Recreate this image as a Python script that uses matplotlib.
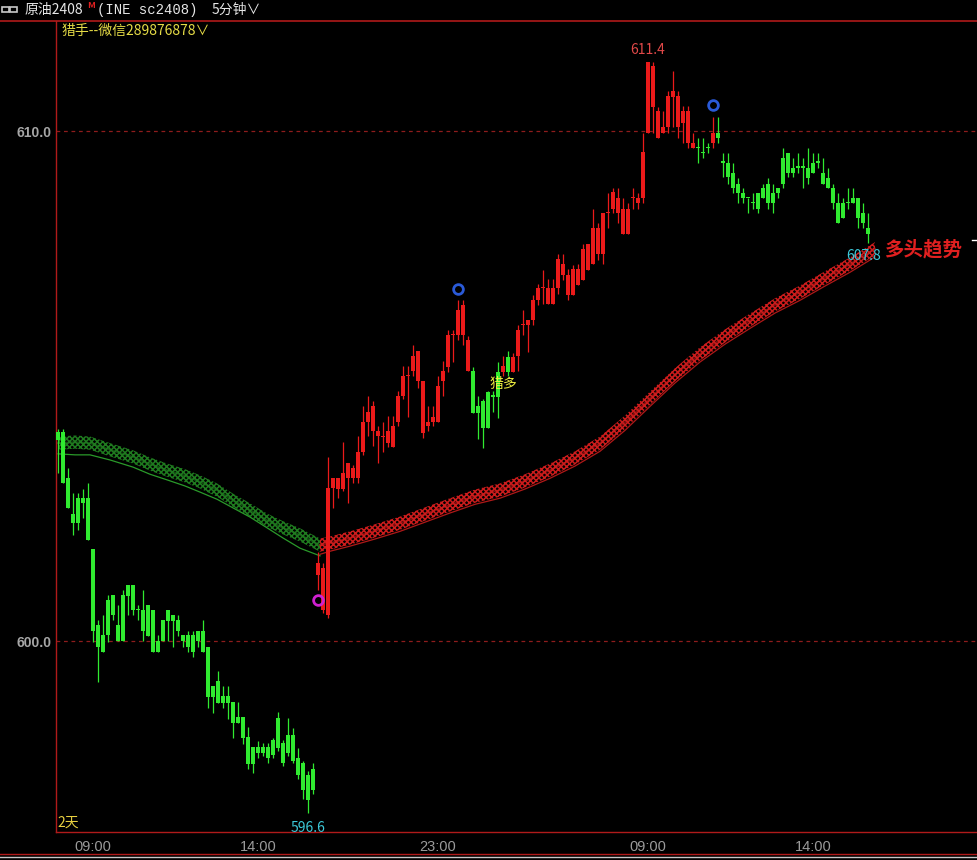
"""5-minute crude oil (INE sc2408) candlestick screen, black terminal style."""

import matplotlib

matplotlib.use("Agg")
import matplotlib.pyplot as plt
import numpy as np
from matplotlib.lines import Line2D
from matplotlib.patches import FancyBboxPatch

plt.rcParams["font.family"] = ["Noto Sans CJK SC", "DejaVu Sans"]
plt.rcParams["hatch.linewidth"] = 1.1

# ---- bar data (one entry per 5-minute bar) ----
opens = [
    604.10, 604.10, 603.19, 602.50, 602.80, 602.80, 602.80, 601.80, 600.31, 600.12,
    600.80, 600.90, 600.31, 600.90, 601.10, 601.10, 600.61, 600.61, 600.71, 600.61,
    600.00, 600.41, 600.61, 600.51, 600.41, 600.12, 600.12, 600.12, 600.20, 600.20,
    599.89, 599.12, 599.22, 598.92, 598.92, 598.81, 598.51, 598.51, 598.12, 597.93,
    597.93, 597.93, 597.93, 598.06, 598.49, 598.00, 598.15, 598.15, 597.70, 597.60,
    597.37, 597.50, 601.29, 600.61, 600.51, 603.00, 602.99, 602.99, 603.19, 603.19,
    603.19, 603.71, 604.30, 604.11, 604.01, 604.00, 603.89, 603.80, 604.30, 604.80,
    605.19, 605.29, 605.10, 604.08, 604.21, 604.30, 604.30, 605.10, 605.38, 606.00,
    606.00, 606.00, 605.90, 605.29, 604.61, 604.71, 604.89, 604.79, 605.28, 605.28,
    605.57, 605.28, 605.59, 606.20, 606.20, 606.29, 606.69, 606.92, 606.61, 606.61,
    606.92, 607.18, 606.78, 606.78, 606.98, 607.08, 607.27, 607.39, 607.58, 607.58,
    608.39, 608.48, 608.39, 607.99, 607.99, 608.69, 608.59, 608.68, 609.97, 610.48,
    609.87, 609.97, 610.07, 610.67, 610.07, 610.16, 609.77, 609.67, 609.67, 609.57,
    609.67, 609.77, 609.97, 609.38, 609.38, 609.18, 608.97, 608.78, 608.69, 608.59,
    608.78, 608.88, 608.97, 608.78, 608.88, 609.48, 609.57, 609.28, 609.28, 609.28,
    609.28, 609.38, 609.38, 609.18, 609.07, 608.88, 608.58, 608.59, 608.59, 608.68,
    608.68, 608.39, 608.09,
]
highs = [
    604.15, 604.15, 603.39, 602.90, 602.90, 602.99, 603.09, 601.80, 600.41, 600.51,
    600.90, 600.90, 600.71, 601.00, 601.10, 601.10, 600.71, 601.00, 600.71, 600.61,
    600.12, 600.41, 600.61, 600.51, 600.51, 600.12, 600.20, 600.20, 600.20, 600.41,
    599.89, 599.12, 599.41, 599.12, 599.12, 598.81, 598.81, 598.51, 598.32, 597.93,
    598.03, 598.00, 598.00, 598.10, 598.60, 598.05, 598.50, 598.30, 597.90, 597.65,
    597.45, 597.60, 601.75, 601.52, 603.61, 603.19, 603.20, 603.91, 603.50, 603.45,
    604.01, 604.61, 604.80, 604.70, 604.21, 604.30, 604.41, 604.41, 604.90, 605.39,
    605.39, 605.80, 605.69, 605.10, 604.61, 604.61, 605.19, 605.49, 606.10, 606.10,
    606.69, 606.69, 605.99, 605.38, 604.81, 604.75, 604.90, 604.90, 605.48, 605.58,
    605.69, 605.65, 606.20, 606.49, 606.29, 606.78, 607.00, 607.28, 607.10, 607.10,
    607.59, 607.59, 607.29, 607.38, 607.39, 607.78, 607.78, 608.48, 608.19, 608.39,
    608.78, 608.88, 608.88, 608.69, 608.59, 608.88, 608.78, 609.97, 611.36, 611.36,
    610.48, 610.39, 610.78, 611.18, 610.78, 610.49, 610.49, 609.97, 609.87, 609.87,
    609.77, 610.28, 610.28, 609.57, 609.57, 609.38, 609.07, 608.88, 608.69, 608.78,
    608.78, 608.97, 609.07, 608.97, 608.88, 609.67, 609.57, 609.48, 609.57, 609.48,
    609.67, 609.57, 609.57, 609.48, 609.28, 608.97, 608.78, 608.68, 608.88, 608.88,
    608.68, 608.59, 608.39,
]
lows = [
    603.29, 603.09, 602.60, 602.08, 602.18, 602.41, 601.98, 599.99, 599.20, 599.79,
    599.99, 600.41, 600.00, 600.00, 600.51, 600.51, 600.41, 600.00, 600.10, 599.79,
    599.79, 600.00, 600.00, 599.89, 600.10, 599.89, 599.79, 599.69, 599.89, 599.79,
    598.68, 598.58, 598.79, 598.68, 598.48, 598.09, 598.40, 597.99, 597.50, 597.41,
    597.70, 597.75, 597.60, 597.70, 597.85, 597.55, 597.75, 597.60, 597.30, 596.90,
    596.63, 597.00, 601.00, 600.55, 600.45, 602.61, 602.80, 602.95, 602.70, 603.10,
    603.09, 603.65, 604.01, 603.82, 603.50, 603.71, 603.80, 603.80, 604.21, 604.75,
    604.40, 605.20, 604.97, 603.98, 604.11, 604.21, 604.30, 604.80, 605.28, 605.48,
    605.90, 605.80, 605.29, 604.48, 603.97, 603.78, 604.18, 604.50, 604.37, 605.19,
    605.19, 605.28, 605.29, 606.00, 605.67, 606.20, 606.59, 606.61, 606.61, 606.61,
    606.81, 607.08, 606.68, 606.78, 606.98, 607.08, 607.27, 607.39, 607.48, 607.39,
    608.09, 608.39, 608.19, 607.99, 607.99, 608.48, 608.48, 608.59, 609.97, 609.97,
    609.87, 609.97, 609.97, 610.07, 609.87, 609.77, 609.67, 609.67, 609.38, 609.48,
    609.57, 609.67, 609.77, 609.09, 608.97, 608.78, 608.59, 608.59, 608.39, 608.48,
    608.39, 608.68, 608.48, 608.39, 608.68, 608.88, 609.09, 609.09, 609.18, 608.88,
    608.97, 609.18, 609.28, 608.97, 608.88, 608.48, 608.19, 608.29, 608.48, 608.59,
    608.09, 608.09, 607.80,
]
closes = [
    603.95, 603.09, 602.60, 602.31, 602.31, 602.70, 601.98, 600.20, 599.89, 599.79,
    600.12, 600.51, 600.00, 600.00, 600.89, 600.61, 600.61, 600.20, 600.10, 599.79,
    599.79, 600.00, 600.39, 600.39, 600.20, 600.00, 599.89, 599.79, 600.00, 599.79,
    598.91, 598.91, 598.79, 598.79, 598.79, 598.40, 598.40, 598.09, 597.58, 597.58,
    597.80, 597.80, 597.70, 597.76, 597.90, 597.60, 597.80, 597.65, 597.37, 597.08,
    596.88, 597.08, 601.52, 601.43, 603.00, 603.19, 603.19, 603.30, 603.50, 603.39,
    603.71, 604.30, 604.50, 604.61, 604.11, 604.00, 604.11, 604.21, 604.80, 605.19,
    605.19, 605.59, 605.69, 605.10, 604.30, 604.40, 605.00, 605.29, 606.00, 606.00,
    606.49, 606.59, 605.29, 604.48, 604.48, 604.18, 604.18, 604.79, 604.79, 605.39,
    605.28, 605.57, 606.10, 606.20, 606.29, 606.69, 606.92, 606.92, 606.92, 606.92,
    607.50, 607.39, 607.18, 607.29, 607.29, 607.68, 607.78, 608.09, 608.09, 608.39,
    608.39, 608.80, 608.69, 608.48, 608.48, 608.69, 608.69, 609.58, 611.36, 611.27,
    610.39, 610.08, 610.69, 610.78, 610.69, 610.39, 610.39, 609.77, 609.67, 609.57,
    609.67, 609.97, 609.87, 609.38, 609.09, 608.89, 608.78, 608.68, 608.69, 608.59,
    608.48, 608.68, 608.59, 608.59, 608.78, 608.97, 609.18, 609.18, 609.28, 609.28,
    609.07, 609.18, 609.38, 608.97, 608.88, 608.59, 608.19, 608.29, 608.59, 608.59,
    608.29, 608.19, 607.99,
]
# indicator state per bar: G = bearish (green), R = bullish (red), as runs
trend_runs = [("G", 52), ("R", 31), ("G", 6), ("R", 1), ("G", 1), ("R", 37),
              ("G", 3), ("R", 1), ("G", 31)]

# trend band (x-chain) and the thin average under it
band_dn_idx = [0, 3.4, 6.4, 10.4, 15, 18.4, 21.8, 25.4, 28.4, 31.8, 35, 38.4, 41.8,
               45, 48.4, 50.8, 52.4]
band_dn = [603.88, 603.90, 603.88, 603.75, 603.61, 603.47, 603.35, 603.24, 603.12,
           602.96, 602.76, 602.57, 602.37, 602.22, 602.08, 601.96, 601.88]
line_dn = [603.67, 603.65, 603.65, 603.55, 603.41, 603.27, 603.16, 603.04, 602.92,
           602.78, 602.61, 602.43, 602.22, 602.02, 601.82, 601.73, 601.67]
band_up_idx = [52.4, 54.4, 58.4, 63.4, 68.4, 73.4, 78.4, 83.4, 88.4, 93.4, 98.4, 103.4,
               108.4, 113.4, 118.4, 123.4, 128.4, 133.4, 138.4, 143.4, 148.4, 153.4,
               158.4, 163.4]
band_up = [601.88, 601.92, 602.02, 602.16, 602.31, 602.49, 602.67, 602.84, 602.96,
           603.14, 603.35, 603.59, 603.88, 604.29, 604.76, 605.22, 605.63, 605.98,
           606.29, 606.59, 606.84, 607.12, 607.39, 607.69]
line_up = [601.70, 601.76, 601.86, 602.00, 602.15, 602.33, 602.51, 602.68, 602.80,
           602.98, 603.19, 603.43, 603.72, 604.13, 604.60, 605.06, 605.47, 605.82,
           606.13, 606.43, 606.68, 606.96, 607.23, 607.53]

# signal markers
top_sig_idx = [80, 131]
top_sig_px = [606.90, 610.51]
bottom_sig_idx = [52]
bottom_sig_px = [600.80]
long_text_idx, long_text_px = 89, 605.04

price_ticks = [600.0, 610.0]
time_ticks = [7, 40, 76, 118, 151]
time_labels = ["09:00", "14:00", "23:00", "09:00", "14:00"]

GREEN = "#30ea30"
RED = "#ea1a1a"
W, H = 977, 860


def _fig_xy(px, py):
    return px / W, 1 - py / H


def _fig_hline(fig, py, color, lw=1.0, x0=0, x1=W):
    fig.add_artist(Line2D([x0 / W, x1 / W], [1 - py / H] * 2, transform=fig.transFigure,
                          color=color, linewidth=lw))


def _draw_band(ax, idx, mid, thin, band_color, line_color):
    mid = np.asarray(mid)
    ax.fill_between(idx, mid - 0.13, mid + 0.13, facecolor="none", edgecolor=band_color,
                    hatch="x" * 6, linewidth=0, zorder=2)
    ax.plot(idx, mid, color=band_color, linewidth=1.4, alpha=0.6, zorder=2)
    ax.plot(idx, thin, color=line_color, linewidth=0.9, zorder=2)


fig = plt.figure(figsize=(W / 100, H / 100), dpi=100, facecolor="black")
ax = fig.add_axes([56 / W, 1 - 832 / H, (W - 56) / W, (832 - 21) / H])
ax.set_facecolor("black")
ax.set_xlim(-0.4, 183.8)
ax.set_ylim(596.255, 612.157)

for side in ("top", "right"):
    ax.spines[side].set_visible(False)
for side in ("left", "bottom"):
    ax.spines[side].set_color("#b01a1a")
    ax.spines[side].set_linewidth(1.0)

# horizontal price grid
for level in price_ticks:
    ax.axhline(level, color="#8e1c1c", linewidth=0.9, linestyle=(0, (3, 3)), zorder=1)

_draw_band(ax, band_dn_idx, band_dn, line_dn, "#1f7a1f", "#2a9a2a")
_draw_band(ax, band_up_idx, band_up, line_up, "#cc1c1c", "#b01818")

# candles
o, h, l, c = map(np.asarray, (opens, highs, lows, closes))
x = np.arange(len(o))
trend = "".join(tag * count for tag, count in trend_runs)
cols = [GREEN if t == "G" else RED for t in trend]
ax.vlines(x, l, h, colors=cols, linewidth=0.9, zorder=3)
ax.bar(x, np.maximum(np.abs(c - o), 0.025), bottom=np.minimum(o, c), width=0.78,
       color=cols, linewidth=0, zorder=3)

# signals
ax.plot(top_sig_idx, top_sig_px, "o", mfc="none", mec="#2a5ad8", ms=7, mew=2, zorder=4)
ax.plot(bottom_sig_idx, bottom_sig_px, "o", mfc="none", mec="#d020d0", ms=7, mew=2, zorder=4)
ax.text(long_text_idx, long_text_px, "猎多", color="#f0f040", fontsize=10,
        ha="center", va="center", zorder=5)
ax.text(band_up_idx[-1] + 2.0, band_up[-1] - 0.02, "多头趋势", color="#e02020", fontsize=14,
        fontweight="bold", ha="left", va="center", zorder=5)

# extremes
hi_i, lo_i = int(np.argmax(h)), int(np.argmin(l))
ax.annotate(f"{h[hi_i]:.1f}", (hi_i, h[hi_i]), xytext=(0, 3), textcoords="offset points",
            ha="center", va="bottom", color="#e04848", fontsize=10)
ax.annotate(f"{l[lo_i]:.1f}", (lo_i, l[lo_i]), xytext=(0, -6), textcoords="offset points",
            ha="center", va="top", color="#3cc8d8", fontsize=10)
ax.annotate(f"{l[-1]:.1f}", (len(l) - 1, l[-1]), xytext=(-3, -4), textcoords="offset points",
            ha="center", va="top", color="#3cc8d8", fontsize=10)

# axes ticks
ax.set_yticks(price_ticks)
ax.set_yticklabels([f"{p:.1f}" for p in price_ticks], color="#a6a6a6", fontsize=10,
                   fontweight="bold", family="Liberation Sans")
ax.set_xticks(time_ticks)
ax.set_xticklabels(time_labels, color="#9a9a9a", fontsize=10.5, family="Liberation Sans")
ax.tick_params(axis="both", length=0)
ax.tick_params(axis="y", pad=3)
ax.tick_params(axis="x", pad=6)
ax.text(0.002, 0.012, "2天", transform=ax.transAxes, color="#e8d040", fontsize=10,
        ha="left", va="center")
ax.plot([0.995, 1.0], [c[-1] - 0.13] * 2, transform=ax.get_yaxis_transform(),
        color="white", linewidth=1, clip_on=False)

# header bar
_fig_hline(fig, 21, "#b01a1a", 1.2)
_fig_hline(fig, 854, "#b01a1a", 1.0)
_fig_hline(fig, 857, "#c8c8c8", 1.0)
for bx in (2, 10):
    fig.add_artist(FancyBboxPatch(_fig_xy(bx, 12), 7 / W, 5 / H, boxstyle="round,pad=0",
                                  transform=fig.transFigure, facecolor="none",
                                  edgecolor="#c8c8c8", linewidth=1.2))
fig.text(*_fig_xy(25, 10), "原油2408", color="#e6e6e6", fontsize=10, va="center")
fig.text(*_fig_xy(87, 6), "M", color="#e02020", fontsize=6.5, fontweight="bold", va="center")
fig.text(*_fig_xy(97, 10), "(INE sc2408)", color="#e6e6e6", fontsize=10, va="center",
         family="Liberation Mono")
fig.text(*_fig_xy(212, 10), "5分钟∨", color="#e6e6e6", fontsize=10, va="center")
fig.text(*_fig_xy(62, 31), "猎手--微信289876878∨", color="#e6dc46", fontsize=10, va="center")

fig.savefig("out.png", dpi=100, facecolor="black")
